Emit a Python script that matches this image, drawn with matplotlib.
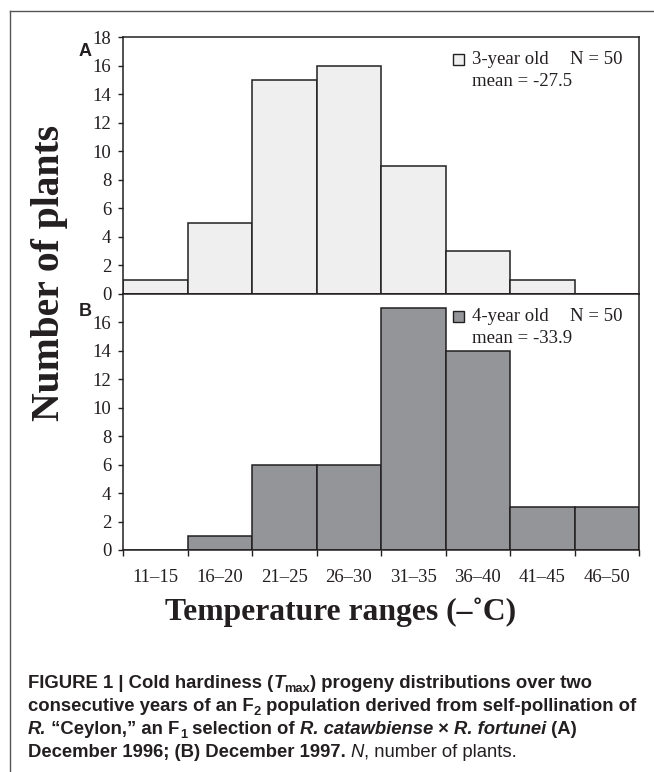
import matplotlib
matplotlib.use("Agg")
import matplotlib.pyplot as plt
import numpy as np
from matplotlib import font_manager
from matplotlib.patches import Rectangle
from matplotlib.lines import Line2D

# data
ranges = ["11–15", "16–20", "21–25", "26–30", "31–35", "36–40", "41–45", "46–50"]
plants_3yr = [1, 5, 15, 16, 9, 3, 1, 0]
plants_4yr = [0, 1, 6, 6, 17, 14, 3, 3]
n_3yr, mean_3yr = 50, -27.5
n_4yr, mean_4yr = 50, -33.9

ink = "#231f20"
serif = "Liberation Serif"
names = {f.name for f in font_manager.fontManager.ttflist}
cap_font = "Liberation Sans Narrow" if "Liberation Sans Narrow" in names else "Liberation Sans"

fig = plt.figure(figsize=(6.54, 7.72), dpi=100)
W, H = 654, 772

def fx(px):
    return px / W

def fy(py):
    return 1 - py / H

left, right = 123, 639
ax_top = fig.add_axes([fx(left), fy(294), (right - left) / W, (294 - 37) / H])
ax_bot = fig.add_axes([fx(left), fy(550), (right - left) / W, (550 - 294) / H])

x = np.arange(len(ranges))
panels = [
    (ax_top, plants_3yr, "#efefef", "3-year old", n_3yr, mean_3yr, np.arange(0, 19, 2)),
    (ax_bot, plants_4yr, "#939598", "4-year old", n_4yr, mean_4yr, np.arange(0, 17, 2)),
]

for ax, vals, color, lab, n, mean, yt in panels:
    ax.bar(x, vals, width=1.0, color=color, edgecolor=ink, linewidth=1.1)
    ax.set_xlim(-0.5, len(ranges) - 0.5)
    ax.set_ylim(0, 18)
    ax.set_yticks(yt)
    ax.set_yticklabels([str(v) for v in yt], fontfamily=serif, fontsize=13.5, color=ink)
    ax.tick_params(axis="y", direction="out", length=3.5, width=1.0, color=ink, pad=5)
    for s in ax.spines.values():
        s.set_color(ink)
        s.set_linewidth(1.1)
    # legend box + text
    ax.add_patch(Rectangle((0.64, 0.892), 0.0215, 0.043, transform=ax.transAxes,
                           facecolor=color, edgecolor=ink, linewidth=1.0, clip_on=False))
    ax.text(0.677, 0.914, lab, transform=ax.transAxes, fontfamily=serif, fontsize=13.5,
            color=ink, va="center", ha="left")
    ax.text(0.866, 0.914, f"N = {n}", transform=ax.transAxes, fontfamily=serif, fontsize=13.5,
            color=ink, va="center", ha="left")
    ax.text(0.677, 0.828, f"mean = {mean}", transform=ax.transAxes, fontfamily=serif,
            fontsize=13.5, color=ink, va="center", ha="left")

ax_top.set_xticks([])
ax_bot.set_xticks(np.arange(-0.5, len(ranges)))
ax_bot.set_xticklabels([])
ax_bot.set_xticks(x, minor=True)
ax_bot.set_xticklabels(ranges, minor=True, fontfamily=serif, fontsize=13.5, color=ink)
ax_bot.tick_params(axis="x", which="major", direction="out", length=4, width=1.0, color=ink)
ax_bot.tick_params(axis="x", which="minor", length=0, pad=14)

# panel letters
fig.text(fx(85), fy(52), "A", fontfamily="Liberation Sans", fontweight="bold",
         fontsize=13, color=ink, ha="center", va="center")
fig.text(fx(85), fy(312), "B", fontfamily="Liberation Sans", fontweight="bold",
         fontsize=13, color=ink, ha="center", va="center")

# axis titles
fig.text(fx(50), fy(273), "Number of plants", fontfamily=serif, fontweight="bold",
         fontsize=28.5, color=ink, rotation=90, ha="center", va="center")
fig.text(fx(341), fy(612), "Temperature ranges (–˚C)", fontfamily=serif, fontweight="bold",
         fontsize=22.8, color=ink, ha="center", va="center")

# frame
fig.add_artist(Line2D([fx(10), fx(10)], [fy(11), 0], color="#555555", linewidth=1.0))
fig.add_artist(Line2D([fx(10), 1], [fy(11), fy(11)], color="#555555", linewidth=1.0))

# caption, drawn run by run
caption = [
    [("FIGURE 1 | Cold hardiness (", "b"), ("T", "bi"), ("max", "bs"),
     (") progeny distributions over two", "b")],
    [("consecutive years of an F", "b"), ("2", "bs"),
     (" population derived from self-pollination of", "b")],
    [("R.", "bi"), (" “Ceylon,” an F", "b"), ("1", "bs"), (" selection of ", "b"),
     ("R. catawbiense", "bi"), (" × ", "b"), ("R. fortunei", "bi"), (" (A)", "b")],
    [("December 1996; (B) December 1997. ", "b"), ("N", "i"), (", number of plants.", "r")],
]
renderer = fig.canvas.get_renderer()


def draw_line(line, base, size, x0=28):
    xpos = x0
    arts = []
    for txt, st in line:
        sz = size * (0.7 if "s" in st else 1.0)
        ypos = base + (0.22 * size * 100 / 72 if "s" in st else 0)
        t = fig.text(fx(xpos), fy(ypos), txt, fontfamily=cap_font,
                     fontweight="bold" if "b" in st else "normal",
                     fontstyle="italic" if "i" in st else "normal",
                     fontsize=sz, color=ink, ha="left", va="baseline")
        arts.append(t)
        xpos += t.get_window_extent(renderer).width
    return xpos, arts


# fit the widest line to the printed width (ends near x=633)
end, arts = draw_line(caption[1], 0, 12)
for a in arts:
    a.remove()
cap_size = 12 * (633 - 28) / (end - 28)

baselines = [688, 711, 734, 757]
for line, base in zip(caption, baselines):
    draw_line(line, base, cap_size)

fig.savefig("out.png", dpi=100)
